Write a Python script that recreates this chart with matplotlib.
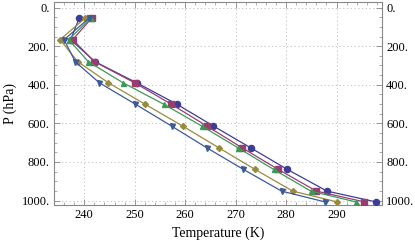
import matplotlib
matplotlib.use("Agg")
import matplotlib.pyplot as plt
from matplotlib.ticker import MultipleLocator, FuncFormatter

# pressure levels (hPa)
pres = [54, 166, 280, 390, 500, 614, 727, 838, 951, 1007]

# temperature profiles (K), one per series
t_circle = [239.0, 237.3, 242.1, 250.4, 258.3, 265.6, 273.0, 280.2, 288.1, 297.8]
t_square = [241.5, 237.7, 242.0, 250.0, 257.2, 264.3, 271.3, 278.4, 286.0, 295.5]
t_diamond = [240.2, 235.2, 238.7, 244.8, 252.0, 259.5, 266.7, 273.8, 281.3, 290.1]
t_triangle = [241.3, 236.9, 240.8, 247.7, 255.7, 263.3, 270.5, 277.5, 284.9, 293.8]
t_down = [241.0, 236.0, 238.2, 243.0, 250.1, 257.3, 264.3, 271.5, 279.1, 287.7]

series = [
    (t_circle, "o", (0.24, 0.24, 0.6), 4.4),
    (t_square, "s", (0.6, 0.24, 0.443), 4.0),
    (t_diamond, "D", (0.6, 0.547, 0.24), 3.0),
    (t_triangle, "^", (0.24, 0.6, 0.337), 3.6),
    (t_down, "v", (0.24, 0.353, 0.6), 3.6),
]

plt.rcParams['font.family'] = ['Liberation Serif', 'DejaVu Serif']
plt.rcParams['font.size'] = 9

fig = plt.figure(figsize=(4.15, 2.46), dpi=100)
ax = fig.add_axes([54/415, 41/246, 328/415, 203/246])

for t, m, c, ms in series:
    ax.plot(t, pres, color=c, lw=0.9, marker=m, ms=ms, mec=c, mfc=c, zorder=3)

ax.set_xlim(234.0, 299.0)
ax.set_ylim(1023, -29)

ax.xaxis.set_major_locator(MultipleLocator(10))
ax.xaxis.set_minor_locator(MultipleLocator(2))
ax.yaxis.set_major_locator(MultipleLocator(200))
ax.yaxis.set_minor_locator(MultipleLocator(50))
ax.yaxis.set_major_formatter(FuncFormatter(lambda v, p: "%d." % v))

ax.tick_params(which='both', direction='in', top=True, right=True,
               labelright=True, color='#888888', labelsize=9, pad=3)
ax.tick_params(which='major', length=4, width=0.6)
ax.tick_params(which='minor', length=2, width=0.5)

for s in ax.spines.values():
    s.set_color('#888888')
    s.set_linewidth(0.8)

ax.grid(True, which='major', color='#bbbbbb', ls=(0, (1.5, 3)), lw=0.6)
ax.set_axisbelow(True)

ax.set_xlabel("Temperature (K)", fontsize=10, labelpad=4)
ax.set_ylabel("P (hPa)", fontsize=10, labelpad=3)

fig.savefig("out.png", dpi=100)
